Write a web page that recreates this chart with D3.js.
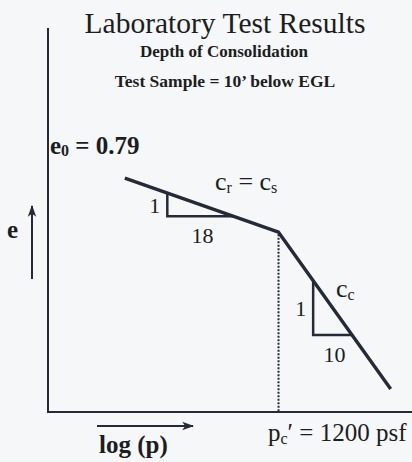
<!DOCTYPE html>
<html>
<head>
<meta charset="utf-8">
<script src="https://cdn.jsdelivr.net/npm/d3@7"></script>
<style>
  html, body { margin: 0; padding: 0; background: #f6f7f9; }
  svg { display: block; }
  text { font-family: "Liberation Serif", "Times New Roman", serif; fill: #1b1d22; }
</style>
</head>
<body>
<svg id="chart" width="412" height="462"></svg>
<script>
// e - log(p) consolidation curve: recompression branch then virgin branch
const pressures = [300, 1200, 3300];        // effective stress, psf
const voidRatios = [0.79, 0.75, 0.634];     // void ratio e at each stress
const preconsolidation = 1200;              // p_c', psf
const initialVoidRatio = 0.79;              // e_0

// slope triangles drawn under each branch (stress span along the line)
const triangleStart = [440, 1640];
const triangleEnd = [800, 2330];
const triangleRise = ["1", "1"];
const triangleRun = ["18", "10"];

const width = 412, height = 462;
const svg = d3.select("#chart");
const ink = "#252b36";

const x = d3.scaleLog().domain([150, 4000]).range([48, 412]);
const y = d3.scaleLinear().domain([0.617, 0.901]).range([412, 28]);

// void ratio along the curve, interpolated in log(p)
const eAt = p => {
  const i = p <= pressures[1] ? 0 : 1;
  const t = (Math.log10(p) - Math.log10(pressures[i])) /
            (Math.log10(pressures[i + 1]) - Math.log10(pressures[i]));
  return voidRatios[i] + t * (voidRatios[i + 1] - voidRatios[i]);
};

// arrowhead marker
svg.append("defs").append("marker")
  .attr("id", "head").attr("viewBox", "0 0 10 10")
  .attr("refX", 9).attr("refY", 5)
  .attr("markerWidth", 6).attr("markerHeight", 6)
  .attr("orient", "auto")
  .append("path").attr("d", "M0,1.5 L10,5 L0,8.5 L2.5,5 Z").attr("fill", ink);

// axes (no ticks)
svg.append("line")
  .attr("x1", x.range()[0]).attr("x2", x.range()[0])
  .attr("y1", y.range()[1]).attr("y2", y.range()[0])
  .attr("stroke", ink).attr("stroke-width", 2);
svg.append("line")
  .attr("x1", x.range()[0] - 1).attr("x2", x.range()[1])
  .attr("y1", y.range()[0]).attr("y2", y.range()[0])
  .attr("stroke", ink).attr("stroke-width", 2);

// dotted drop line at the preconsolidation pressure
svg.append("line")
  .attr("x1", x(preconsolidation)).attr("x2", x(preconsolidation))
  .attr("y1", y(eAt(preconsolidation)) + 2).attr("y2", y.range()[0])
  .attr("stroke", ink).attr("stroke-width", 2)
  .attr("stroke-dasharray", "2,1.5");

// slope triangles
triangleStart.forEach((p1, i) => {
  const p2 = triangleEnd[i];
  const pts = [[x(p1), y(eAt(p1))], [x(p1), y(eAt(p2))], [x(p2), y(eAt(p2))]];
  svg.append("path")
    .attr("d", d3.line()(pts))
    .attr("fill", "none").attr("stroke", ink).attr("stroke-width", 2.5);
  svg.append("text")
    .attr("x", x(p1) - 7).attr("y", (pts[0][1] + pts[1][1]) / 2 + 8)
    .attr("text-anchor", "end").attr("font-size", 22)
    .text(triangleRise[i]);
  svg.append("text")
    .attr("x", (x(p1) + x(p2)) / 2 + 2).attr("y", pts[1][1] + 27)
    .attr("text-anchor", "middle").attr("font-size", 22)
    .text(triangleRun[i]);
});

// compression curve
svg.append("path")
  .datum(pressures.map((p, i) => [p, voidRatios[i]]))
  .attr("d", d3.line().x(d => x(d[0])).y(d => y(d[1])))
  .attr("fill", "none").attr("stroke", ink).attr("stroke-width", 3.4)
  .attr("stroke-linejoin", "round");

// titles
svg.append("text").attr("x", 225).attr("y", 33)
  .attr("text-anchor", "middle").attr("font-size", 29.5)
  .text("Laboratory Test Results");
svg.append("text").attr("x", 224).attr("y", 57)
  .attr("text-anchor", "middle").attr("font-size", 17).attr("font-weight", "bold")
  .text("Depth of Consolidation");
svg.append("text").attr("x", 225).attr("y", 87)
  .attr("text-anchor", "middle").attr("font-size", 17.5).attr("font-weight", "bold")
  .text("Test Sample = 10’ below EGL");

// e0 label
const e0 = svg.append("text").attr("x", 50).attr("y", 154)
  .attr("font-size", 25).attr("font-weight", "bold");
e0.append("tspan").text("e");
e0.append("tspan").attr("font-size", 16).attr("dy", 2).text("0");
e0.append("tspan").attr("dy", -2).text(" = " + initialVoidRatio.toFixed(2));

// recompression / swelling index label
const cr = svg.append("text").attr("x", 215).attr("y", 190).attr("font-size", 26);
cr.append("tspan").text("c");
cr.append("tspan").attr("font-size", 16).attr("dy", 3).text("r");
cr.append("tspan").attr("dy", -3).text(" = c");
cr.append("tspan").attr("font-size", 16).attr("dy", 3).text("s");

// compression index label
const cc = svg.append("text").attr("x", 336).attr("y", 297).attr("font-size", 26);
cc.append("tspan").text("c");
cc.append("tspan").attr("font-size", 16).attr("dy", 3).text("c");

// axis arrows and labels
svg.append("line")
  .attr("x1", 32).attr("x2", 32).attr("y1", 279).attr("y2", 206)
  .attr("stroke", ink).attr("stroke-width", 2).attr("marker-end", "url(#head)");
svg.append("text").attr("x", 7).attr("y", 238)
  .attr("font-size", 25).attr("font-weight", "bold").text("e");

svg.append("line")
  .attr("x1", 97).attr("x2", 193).attr("y1", 426).attr("y2", 426)
  .attr("stroke", ink).attr("stroke-width", 2).attr("marker-end", "url(#head)");
svg.append("text").attr("x", 99).attr("y", 453)
  .attr("font-size", 25).attr("font-weight", "bold").text("log (p)");

const pc = svg.append("text").attr("x", 268).attr("y", 441).attr("font-size", 25);
pc.append("tspan").text("p");
pc.append("tspan").attr("font-size", 16).attr("dy", 3).text("c");
pc.append("tspan").attr("dy", -3).text("′ = " + preconsolidation + " psf");
</script>
</body>
</html>
